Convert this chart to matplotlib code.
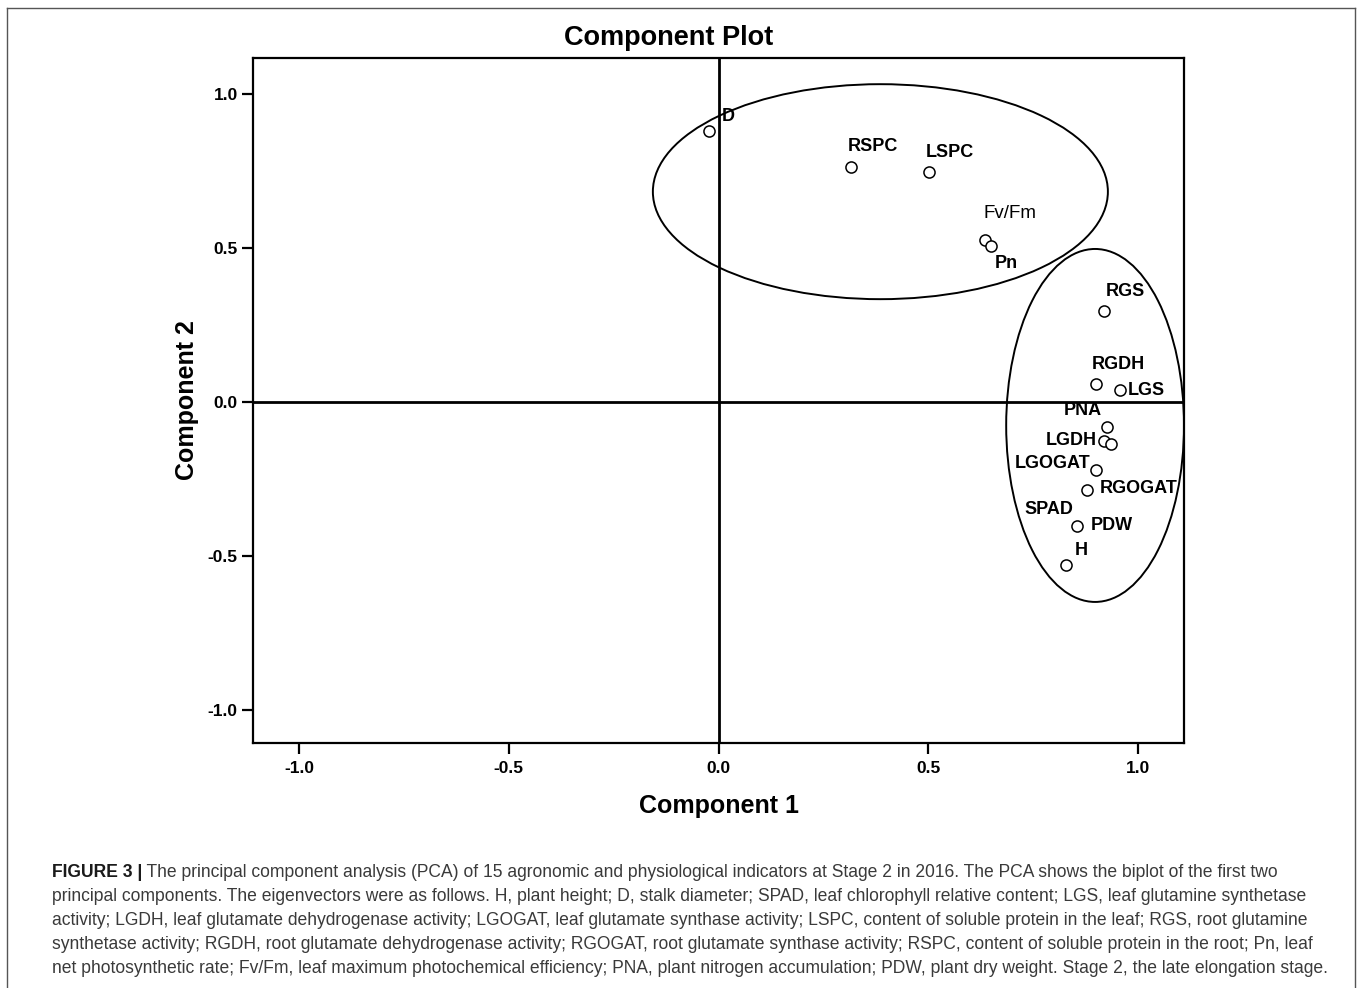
import matplotlib
matplotlib.use("Agg")
import matplotlib.pyplot as plt
from matplotlib.patches import Ellipse
from matplotlib.lines import Line2D

# ---- data ----
labels = ["D", "RSPC", "LSPC", "Fv/Fm", "Pn", "RGS", "RGDH", "LGS", "PNA",
          "LGDH", "SPAD", "LGOGAT", "RGOGAT", "PDW", "H"]
comp1 = [-0.023, 0.316, 0.502, 0.635, 0.650, 0.919, 0.900, 0.957, 0.926,
         0.919, 0.936, 0.900, 0.878, 0.855, 0.828]
comp2 = [0.880, 0.763, 0.747, 0.526, 0.506, 0.295, 0.058, 0.039, -0.081,
         -0.127, -0.136, -0.221, -0.286, -0.403, -0.529]
# label offsets from the point, in pixels (as placed in the original)
label_dx = [19, 22, 21, 25, 15, 21, 22, 26, -24, -33, -62, -43, 52, 35, 16]
label_dy = [14, 21, 19, 27, -17, 20, 20, 0, 16, 1, -66, 7, 2, 1, 14]

ticks = [-1.0, -0.5, 0.0, 0.5, 1.0]
tick_labels = ["-1.0", "-0.5", "0.0", "0.5", "1.0"]

# group ellipses (center x, center y, width, height)
ell_cx = [0.386, 0.898]
ell_cy = [0.683, -0.076]
ell_w = [1.085, 0.424]
ell_h = [0.698, 1.146]

caption_bold = "FIGURE 3 |"
caption_lines = [
    " The principal component analysis (PCA) of 15 agronomic and physiological indicators at Stage 2 in 2016. The PCA shows the biplot of the first two",
    "principal components. The eigenvectors were as follows. H, plant height; D, stalk diameter; SPAD, leaf chlorophyll relative content; LGS, leaf glutamine synthetase",
    "activity; LGDH, leaf glutamate dehydrogenase activity; LGOGAT, leaf glutamate synthase activity; LSPC, content of soluble protein in the leaf; RGS, root glutamine",
    "synthetase activity; RGDH, root glutamate dehydrogenase activity; RGOGAT, root glutamate synthase activity; RSPC, content of soluble protein in the root; Pn, leaf",
    "net photosynthetic rate; Fv/Fm, leaf maximum photochemical efficiency; PNA, plant nitrogen accumulation; PDW, plant dry weight. Stage 2, the late elongation stage.",
]

W, H = 1357, 988
fig = plt.figure(figsize=(W / 100, H / 100), dpi=100)
fig.patch.set_facecolor("white")

sans = ["Liberation Sans", "DejaVu Sans"]

ax = fig.add_axes([253 / W, 1 - 743 / H, 931 / W, 685 / H])
ax.set_xlim(-1.11, 1.11)
ax.set_ylim(-1.107, 1.117)

for s in ax.spines.values():
    s.set_linewidth(1.6)
    s.set_color("black")

ax.axhline(0, color="black", lw=2.0, zorder=1)
ax.axvline(0, color="black", lw=2.0, zorder=1)

for cx, cy, w, h in zip(ell_cx, ell_cy, ell_w, ell_h):
    ax.add_patch(Ellipse((cx, cy), w, h, fill=False, edgecolor="black", lw=1.4, zorder=2))

ax.plot(comp1, comp2, linestyle="none", marker="o", markersize=8,
        markerfacecolor="white", markeredgecolor="black", markeredgewidth=1.1, zorder=3)

for lab, x, y, dx, dy in zip(labels, comp1, comp2, label_dx, label_dy):
    wt = "normal" if lab == "Fv/Fm" else "bold"
    fsz = 13.5 if lab == "Fv/Fm" else 13
    ax.annotate(lab, (x, y), xytext=(dx, dy), textcoords="offset pixels",
                ha="center", va="center", fontsize=fsz, family=sans, weight=wt, zorder=4)

ax.set_xticks(ticks)
ax.set_xticklabels(tick_labels)
ax.set_yticks(ticks)
ax.set_yticklabels(tick_labels)
ax.tick_params(direction="out", length=8, width=1.6, labelsize=12.5)
ax.tick_params(axis="x", pad=5)
ax.tick_params(axis="y", pad=3)
for t in ax.get_xticklabels() + ax.get_yticklabels():
    t.set_family(sans)
    t.set_weight("bold")

ax.set_xlabel("Component 1", fontsize=18, weight="bold", family=sans, labelpad=13)
ax.set_ylabel("Component 2", fontsize=18, weight="bold", family=sans, labelpad=6)
fig.text(669 / W, 1 - 38 / H, "Component Plot", ha="center", va="center",
         fontsize=19.5, weight="bold", family=sans)

# outer frame
frame_col = "#555555"
fig.add_artist(Line2D([7 / W, 7 / W], [0, 1 - 8 / H], color=frame_col, lw=1.0))
fig.add_artist(Line2D([7 / W, 1355 / W], [1 - 8 / H, 1 - 8 / H], color=frame_col, lw=1.0))
fig.add_artist(Line2D([1355 / W, 1355 / W], [0, 1 - 8 / H], color=frame_col, lw=1.0))

# caption
cap_font = ["Liberation Sans", "DejaVu Sans"]
cap_color = "#3a3a3a"
y0 = 877
fs0 = 13.2
targets = [1299, 1319, 1319, 1318, 1337]
renderer = fig.canvas.get_renderer()

tb = fig.text(52 / W, 1 - y0 / H, caption_bold, ha="left", va="baseline",
              fontsize=fs0, weight="bold", family=cap_font, color="#1a1a1a")
t0 = fig.text(0, 0, caption_lines[0], fontsize=fs0, family=cap_font)
widths = [tb.get_window_extent(renderer).width + t0.get_window_extent(renderer).width]
t0.remove()
for line in caption_lines[1:]:
    tt = fig.text(0, 0, line, fontsize=fs0, family=cap_font)
    widths.append(tt.get_window_extent(renderer).width)
    tt.remove()
scale = min((tg - 52) / wd for tg, wd in zip(targets, widths))
fs = fs0 * scale
tb.set_fontsize(fs)

bb = tb.get_window_extent(renderer)
fig.text(bb.x1 / W, 1 - y0 / H, caption_lines[0], ha="left", va="baseline",
         fontsize=fs, family=cap_font, color=cap_color)
for i, line in enumerate(caption_lines[1:], start=1):
    fig.text(52 / W, 1 - (y0 + 24 * i) / H, line, ha="left", va="baseline",
             fontsize=fs, family=cap_font, color=cap_color)

fig.savefig("out.png", dpi=100, facecolor="white")
